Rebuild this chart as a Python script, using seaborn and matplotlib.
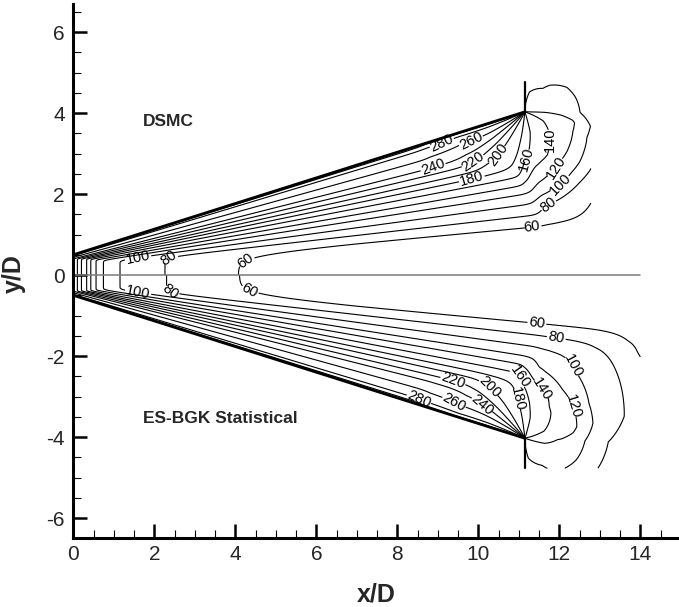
import numpy as np
import matplotlib
matplotlib.use("Agg")
import matplotlib.pyplot as plt
import seaborn as sns

# ---------------- nozzle geometry (x/D, y/D) ----------------
THROAT_H = 0.5
EXIT_X = 11.15
EXIT_H = 4.03
LIP_TOP = 4.77
UPPER_XMAX = 12.78
LOWER_XMAX = 14.0
AXIS_END = 14.0

levels = [60, 80, 100, 120, 140, 160, 180, 200, 220, 240, 260, 280, 300]

# ---------------- DSMC (upper half) ----------------
# transverse profile: fraction of local half-height -> temperature
dsmc_eta = [0.0, 0.29, 0.36, 0.43, 0.495, 0.55, 0.605, 0.655, 0.70, 0.75, 0.80, 0.875, 0.955, 0.985, 1.0]
dsmc_eta_T = [30, 60, 80, 100, 120, 140, 160, 180, 200, 220, 240, 260, 280, 300, 315]
# axial decay from the throat
dsmc_axis_x = [0.0, 0.02, 0.1, 0.2, 0.33, 0.43, 0.56, 0.74, 1.15, 2.26, 4.07, 7.0, 11.15, 14.0]
dsmc_axis_T = [315, 240, 220, 200, 180, 160, 140, 120, 100, 80, 60, 50, 42, 36]
# temperature fan around the lip (degrees measured from the wall direction)
dsmc_fan_ang = [0, 3, 8, 12, 20, 23, 30, 36, 45, 55, 65, 72, 76, 90, 110, 150, 162, 180, 215, 252.4]
dsmc_fan_T = [315, 292, 276, 268, 250, 240, 225, 211, 200, 191, 182, 172, 170, 160, 150, 138, 120, 112, 103, 100]
# drop away from the lip inside the nozzle and in the plume
dsmc_inner_r = [0.0, 1.0, 1.8, 2.6, 3.5, 5.0, 12.0]
dsmc_inner_drop = [0, 4, 10, 6, -30, -120, -700]
dsmc_plume_r = [0.0, 0.5, 0.9, 1.2, 1.4, 1.7, 2.0, 2.4, 3.0, 3.6]
dsmc_plume_drop = [0, 2, 8, 15, 26, 40, 56, 83, 95, 100]
dsmc_plume_ang = [0, 100, 120, 140, 150, 180, 252.4]
dsmc_plume_gain = [1.0, 1.0, 1.0, 1.08, 1.0, 0.6, 0.5]

# ---------------- ES-BGK (lower half) ----------------
esbgk_eta = [0.0, 0.29, 0.36, 0.43, 0.495, 0.55, 0.605, 0.655, 0.70, 0.75, 0.80, 0.875, 0.955, 0.985, 1.0]
esbgk_eta_T = [30, 60, 80, 100, 120, 140, 160, 180, 200, 220, 240, 260, 280, 300, 315]
esbgk_axis_x = [0.0, 0.02, 0.1, 0.2, 0.33, 0.43, 0.56, 0.74, 1.15, 2.3, 4.1, 7.0, 11.15, 14.0]
esbgk_axis_T = [315, 240, 220, 200, 180, 160, 140, 120, 100, 80, 60, 50, 42, 36]
esbgk_fan_ang = [0, 3, 8, 12, 20, 23, 30, 36, 45, 55, 65, 72, 76, 90, 110, 150, 165, 190, 220, 252.4]
esbgk_fan_T = [315, 292, 276, 268, 250, 240, 225, 211, 200, 191, 182, 172, 170, 160, 150, 140, 126, 117, 105, 100]
esbgk_inner_r = [0.0, 1.0, 1.8, 2.6, 3.5, 5.0, 12.0]
esbgk_inner_drop = [0, 4, 10, 6, -30, -120, -700]
esbgk_plume_r = [0.0, 0.5, 0.9, 1.2, 1.4, 1.8, 2.6, 3.0, 3.5, 4.0]
esbgk_plume_drop = [0, 2, 8, 15, 24, 44, 62, 70, 86, 90]
esbgk_plume_ang = [0, 150, 185, 252.4]
esbgk_plume_gain = [1.0, 1.0, 0.82, 0.75]

# label anchor points
dsmc_label_xy = [(1.6, 0.42), (2.34, 0.45), (4.2, 0.42), (11.32, 1.23), (11.72, 1.73),
                 (12.0, 2.27), (11.94, 2.64), (11.82, 3.33), (11.23, 2.84), (9.84, 2.37),
                 (10.59, 2.91), (9.8, 2.89), (8.88, 2.67), (9.84, 3.28), (9.1, 3.26)]
esbgk_label_xy = [(1.6, -0.42), (2.39, -0.42), (4.31, -0.45), (11.44, -1.23), (11.89, -1.69),
                  (12.21, -2.3), (12.15, -3.29), (11.65, -2.77), (10.95, -2.55), (11.1, -3.04),
                  (10.24, -2.8), (9.38, -2.6), (10.09, -3.2), (9.38, -3.17), (8.52, -3.09)]

SOFT = 8.0
SOFT_AXIS = 5.0


def wall_height(x):
    return THROAT_H + (EXIT_H - THROAT_H) * x / EXIT_X


def smoothstep(t):
    t = np.clip(t, 0, 1)
    return t * t * (3 - 2 * t)


def temperature(X, Y, p):
    ya = np.abs(Y)
    eta = np.clip(ya / wall_height(X), 0, 1)
    fe = np.interp(eta, p["eta"], p["eta_T"])
    tc = np.interp(X, p["axis_x"], p["axis_T"])
    # core: transverse profile merged with the axial decay from the throat
    t_ray = SOFT_AXIS * np.logaddexp(fe / SOFT_AXIS, tc / SOFT_AXIS)
    t_ray = np.minimum(t_ray, p["eta_T"][-1])

    # polar coordinates about the nozzle lip
    dx = X - EXIT_X
    dy = ya - EXIT_H
    r = np.hypot(dx, dy)
    phi = np.degrees(np.arctan2(dy, dx)) % 360
    wall_dir = 180 + np.degrees(np.arctan2(EXIT_H - THROAT_H, EXIT_X))
    ang = (phi - wall_dir) % 360
    ang = np.where(ang > 306, ang - 360, ang)
    ang = np.clip(ang, 0, 252.4)
    g = np.interp(ang, p["fan_ang"], p["fan_T"])
    s = smoothstep((ang - 58) / 27)
    gain = np.interp(ang, p["plume_ang"], p["plume_gain"])
    drop = ((1 - s) * np.interp(r, p["inner_r"], p["inner_drop"])
            + s * gain * np.interp(r, p["plume_r"], p["plume_drop"]))
    cap = g - drop
    return -SOFT * np.logaddexp(-t_ray / SOFT, -cap / SOFT)


def half(prefix):
    g = globals()
    keys = ["eta", "eta_T", "axis_x", "axis_T", "fan_ang", "fan_T", "inner_r",
            "inner_drop", "plume_r", "plume_drop", "plume_ang", "plume_gain"]
    return {k: g[f"{prefix}_{k}"] for k in keys}


upper = half("dsmc")
lower = half("esbgk")

# ---------------- grids ----------------
xi = np.linspace(0, EXIT_X, 561)
ei = np.linspace(0, 1, 301)
XI = np.broadcast_to(xi[None, :], (ei.size, xi.size))
YI = ei[:, None] * wall_height(xi)[None, :]

xe_u = np.linspace(EXIT_X, UPPER_XMAX, 200)
xe_l = np.linspace(EXIT_X, LOWER_XMAX, 340)
ye = np.linspace(0, LIP_TOP, 400)
XEU, YEU = np.meshgrid(xe_u, ye)
XEL, YEL = np.meshgrid(xe_l, -ye)

T_ui = temperature(XI, YI, upper)
T_ue = temperature(XEU, YEU, upper)
T_li = temperature(XI, -YI, lower)
T_le = temperature(XEL, YEL, lower)

# ---------------- figure ----------------
sns.set_theme(style="white")
plt.rcParams["font.family"] = ["Liberation Sans", "DejaVu Sans"]
plt.rcParams["axes.unicode_minus"] = False

fig = plt.figure(figsize=(6.79, 6.07), dpi=100)
ax = fig.add_axes([0.108, 0.1132, 0.8917, 0.8807])

line_kw = dict(colors="black", linewidths=0.8, linestyles="solid")
cs_ui = ax.contour(XI, YI, T_ui, levels=levels, **line_kw)
cs_ue = ax.contour(XEU, YEU, T_ue, levels=levels, **line_kw)
cs_li = ax.contour(XI, -YI, T_li, levels=levels, **line_kw)
cs_le = ax.contour(XEL, YEL, T_le, levels=levels, **line_kw)


def place_labels(cs_in, cs_out, pts):
    inner = [p for p in pts if p[0] <= EXIT_X]
    outer = [p for p in pts if p[0] > EXIT_X]
    lab_kw = dict(inline=True, fontsize=10.5, fmt="%d", inline_spacing=2)
    if inner:
        ax.clabel(cs_in, manual=inner, **lab_kw)
    if outer:
        ax.clabel(cs_out, manual=outer, **lab_kw)


place_labels(cs_ui, cs_ue, dsmc_label_xy)
place_labels(cs_li, cs_le, esbgk_label_xy)

# nozzle walls and lip plates
for sgn in (1, -1):
    sns.lineplot(x=[0, EXIT_X], y=[sgn * THROAT_H, sgn * EXIT_H], color="black",
                 linewidth=2.0, estimator=None, sort=False, ax=ax)
    sns.lineplot(x=[EXIT_X, EXIT_X], y=[sgn * EXIT_H, sgn * LIP_TOP], color="black",
                 linewidth=1.6, estimator=None, sort=False, ax=ax)
# symmetry line
sns.lineplot(x=[0, AXIS_END], y=[0, 0], color="#7a7a7a", linewidth=1.1,
             estimator=None, sort=False, ax=ax)

ax.text(1.72, 3.78, "DSMC", fontsize=12.5, fontweight="bold", ha="left", va="center")
ax.text(1.72, -3.53, "ES-BGK Statistical", fontsize=12.5, fontweight="bold",
        ha="left", va="center")

ax.set_xlim(0, 14.95)
ax.set_ylim(-6.5, 6.7)
ax.set_xticks(np.arange(0, 15, 2))
ax.set_yticks(np.arange(-6, 7, 2))
ax.set_xticks(np.arange(0, 15, 0.5), minor=True)
ax.set_yticks(np.arange(-6.5, 6.6, 0.5), minor=True)
ax.tick_params(which="major", direction="in", length=10, width=1.8, labelsize=15,
               color="black", left=True, bottom=True, pad=5)
ax.tick_params(which="minor", direction="in", length=5.5, width=0.8, color="black",
               left=True, bottom=True)
ax.tick_params(axis="y", which="major", pad=6)
for side in ("top", "right"):
    ax.spines[side].set_visible(False)
for side in ("left", "bottom"):
    ax.spines[side].set_color("black")
    ax.spines[side].set_linewidth(2.2)

ax.set_xlabel("x/D", fontsize=18, fontweight="bold")
ax.set_ylabel("y/D", fontsize=18, fontweight="bold")
ax.xaxis.set_label_coords(0.5, -0.0836)
ax.yaxis.set_label_coords(-0.078, 0.496)
ax.set_facecolor("white")
fig.patch.set_facecolor("white")

fig.savefig("out.png", dpi=100, facecolor="white")
